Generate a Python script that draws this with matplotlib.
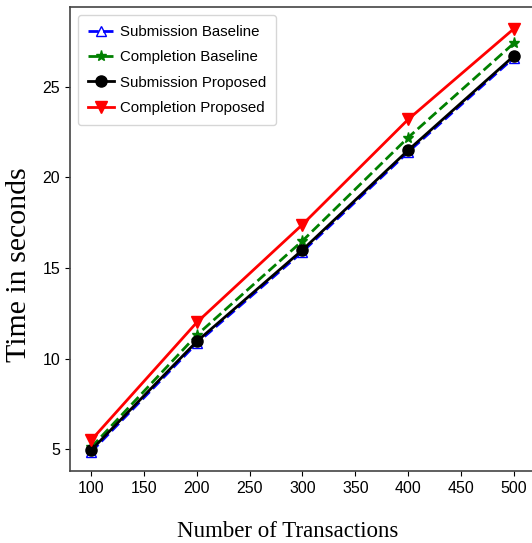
import matplotlib
matplotlib.use("Agg")
import matplotlib.pyplot as plt

transactions = [100, 200, 300, 400, 500]
submission_baseline = [4.85, 10.85, 15.9, 21.4, 26.6]
completion_baseline = [5.1, 11.3, 16.5, 22.2, 27.4]
submission_proposed = [4.95, 10.95, 16.0, 21.5, 26.7]
completion_proposed = [5.5, 12.0, 17.4, 23.2, 28.2]

sans = 'Liberation Sans'

fig = plt.figure(figsize=(5.32, 5.43), dpi=100)
ax = fig.add_axes([70/532, (543-471)/543, 465/532, 464/543])

ax.plot(transactions, submission_baseline, '--', color='blue', marker='^',
        markerfacecolor='none', markersize=7, linewidth=2, label='Submission Baseline')
ax.plot(transactions, completion_baseline, '--', color='green', marker='*',
        markersize=8, linewidth=2, label='Completion Baseline')
ax.plot(transactions, submission_proposed, '-', color='black', marker='o',
        markersize=8, linewidth=2, label='Submission Proposed')
ax.plot(transactions, completion_proposed, '-', color='red', marker='v',
        markersize=8, linewidth=2, label='Completion Proposed')

ax.set_xlim(80, 520)
ax.set_ylim(3.8, 29.4)
ax.set_xticks([100, 150, 200, 250, 300, 350, 400, 450, 500])
ax.set_yticks([5, 10, 15, 20, 25])
ax.tick_params(labelsize=11.5)
for lab in ax.get_xticklabels() + ax.get_yticklabels():
    lab.set_fontfamily(sans)
for s in ax.spines.values():
    s.set_color('#444444')
    s.set_linewidth(1.2)

ax.set_xlabel('Number of Transactions', fontfamily='Liberation Serif', fontsize=16.5)
ax.xaxis.set_label_coords(0.469, -0.108)
ax.set_ylabel('Time in seconds', fontfamily='Liberation Serif', fontsize=21.5)
ax.yaxis.set_label_coords(-0.082, 0.444)
ax.legend(loc='upper left', prop={'family': sans, 'size': 10.8}, handlelength=1.7,
          handletextpad=0.45, labelspacing=0.75, borderpad=0.65, borderaxespad=0.55)

fig.savefig('out.png', dpi=100)
